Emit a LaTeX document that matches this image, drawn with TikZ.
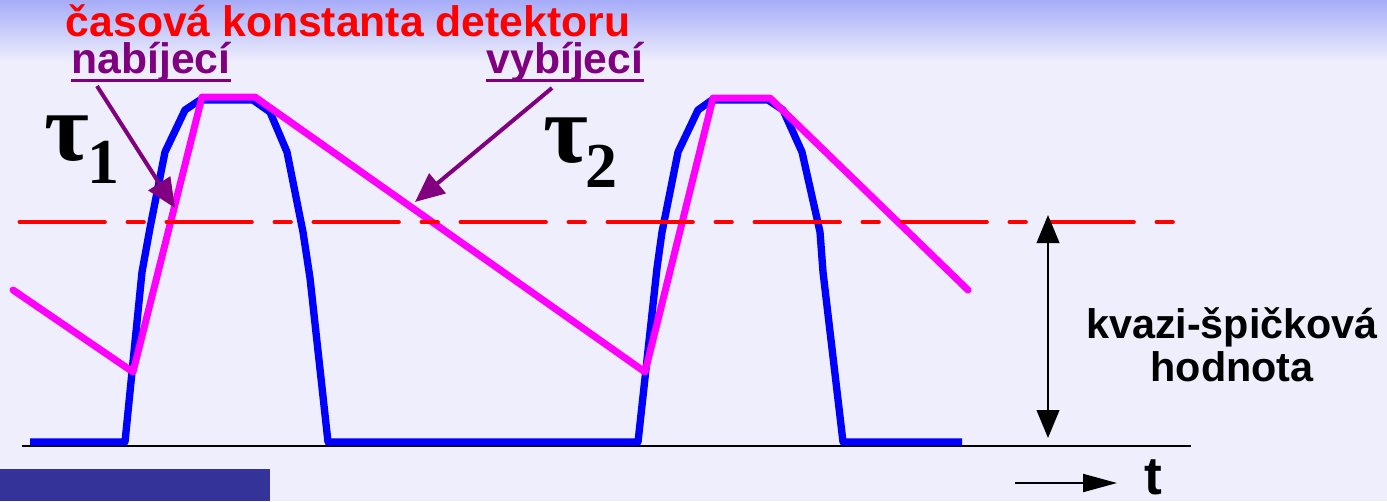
\documentclass[tikz,border=0pt]{standalone}
\usepackage{fontspec}
\setmainfont{Liberation Sans}
\newfontfamily\taufont{Liberation Serif}
\usetikzlibrary{arrows.meta,positioning}
\definecolor{slidebg}{RGB}{238,238,252}
\definecolor{bandtop}{RGB}{166,172,248}
\definecolor{pulseblue}{RGB}{0,0,255}
\definecolor{envel}{RGB}{255,0,255}
\definecolor{thresh}{RGB}{255,0,0}
\definecolor{callout}{RGB}{128,0,128}
\definecolor{navbox}{RGB}{51,51,153}

\begin{document}
\begin{tikzpicture}[x=0.75pt,y=-0.75pt,
    lbl/.style={font=\bfseries\fontsize{32}{38}\selectfont,inner sep=0pt},
    taulbl/.style={font=\taufont\bfseries\fontsize{73}{80}\selectfont,inner sep=0pt},
    subnum/.style={font=\taufont\bfseries\fontsize{48}{52}\selectfont,inner sep=0pt},
    callarrow/.style={callout,line width=3pt,-{Triangle[length=22pt,width=19pt]}},
    blackarrow/.style={line width=1.5pt,{Triangle[length=21pt,width=17pt]}-{Triangle[length=21pt,width=17pt]}}]
  \useasboundingbox (0,0) rectangle (1387,501);
  % slide background
  \fill[slidebg] (0,0) rectangle (1387,501);
  \shade[top color=bandtop,bottom color=slidebg] (0,0) rectangle (1387,62);
  \fill[navbox] (0,469) rectangle (270,501);

  % axis
  \draw[line width=1.5pt] (22,446) -- (1191,446);

  % input pulses and detector output
  \draw[pulseblue,line width=5.5pt,line join=round]
    (30,442) -- (125,442) -- (142,272) -- (150,228) -- (165,152) -- (185,110) -- (200,100)
    -- (253,100) -- (270,112) -- (287,152) -- (303,232) -- (310,278) -- (328,442)
    -- (638,442) -- (657,268) -- (662,232) -- (678,152) -- (698,110) -- (712,100)
    -- (768,100) -- (783,110) -- (802,152) -- (820,232) -- (823,272) -- (843,442) -- (962,442);
  \draw[envel,line width=5.25pt,line join=round,line cap=round]
    (13,290) -- (133,372) -- (202,97) -- (255,97) -- (645,372) -- (713,98) -- (770,98) -- (968,290);
  \draw[thresh,line width=3pt,line cap=round,dash pattern=on 64pt off 17pt on 12.25pt off 17pt]
    (19.5,222) -- (1192,222);

  % labels
  \node[lbl,text=thresh,anchor=base] (title) at (348,36) {časová konstanta detektoru};
  \node[lbl,text=callout,anchor=base] (nab) at (151,73) {nabíjecí};
  \node[lbl,text=callout,anchor=base] (vyb) at (565,73) {vybíjecí};
  \draw[callout,line width=2.25pt] ([yshift=-5.5pt]nab.base west) -- ([yshift=-5.5pt]nab.base east);
  \draw[callout,line width=2.25pt] ([yshift=-5.5pt]vyb.base west) -- ([yshift=-5.5pt]vyb.base east);

  \coordinate (nabfoot) at (97,86);
  \coordinate (vybfoot) at (552,88);
  \coordinate (chargetip) at (175,208);
  \coordinate (dischargetip) at (415,202);
  \draw[callarrow] (nabfoot) -- (chargetip);
  \draw[callarrow] (vybfoot) -- (dischargetip);

  \node[taulbl,anchor=base west] (tau1) at (44,160) {τ};
  \node[subnum,anchor=base west] (sub1) at (87,183) {1};
  \node[taulbl,anchor=base west] (tau2) at (543,162) {τ};
  \node[subnum,anchor=base west] (sub2) at (585,187) {2};

  % quasi-peak value
  \coordinate (qtop) at (1048,215);
  \coordinate (qbot) at (1048,438);
  \draw[blackarrow] (qtop) -- (qbot);
  \node[lbl,font=\bfseries\fontsize{31}{36}\selectfont,anchor=base] (qp) at (1232,338) {kvazi-špičková};
  \node[lbl,font=\bfseries\fontsize{31}{36}\selectfont,anchor=base] (hod) at (1232,381) {hodnota};

  % time axis mark
  \coordinate (tstart) at (1015,483);
  \node[lbl,font=\bfseries\fontsize{40}{44}\selectfont,anchor=base west] (tlbl) at (1144,494) {t};
  \draw[line width=1.5pt,-{Triangle[length=25.5pt,width=13.5pt]}] (tstart) -- (1117,483);
\end{tikzpicture}
\end{document}
